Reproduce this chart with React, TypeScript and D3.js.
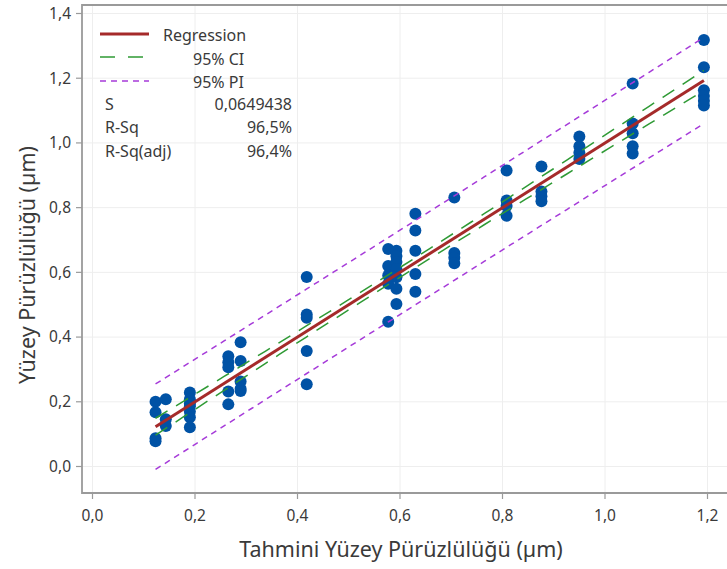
import React from "react";
import * as d3 from "d3";

const fittedLevels = [0.123, 0.143, 0.19, 0.265, 0.289, 0.418, 0.577, 0.593, 0.63, 0.706, 0.808, 0.876, 0.95, 1.054, 1.193];
const observedByLevel = [
  [0.2, 0.168, 0.087, 0.078],
  [0.208, 0.146, 0.125],
  [0.229, 0.208, 0.195, 0.186, 0.17, 0.152, 0.121],
  [0.341, 0.322, 0.307, 0.232, 0.192],
  [0.384, 0.326, 0.263, 0.24, 0.233],
  [0.586, 0.47, 0.46, 0.357, 0.254],
  [0.672, 0.62, 0.59, 0.565, 0.447],
  [0.667, 0.65, 0.632, 0.61, 0.585, 0.549, 0.502],
  [0.781, 0.729, 0.667, 0.595, 0.54],
  [0.831, 0.66, 0.645, 0.628],
  [0.915, 0.822, 0.805, 0.775],
  [0.927, 0.85, 0.835, 0.82],
  [1.02, 0.99, 0.97, 0.95],
  [1.184, 1.06, 1.03, 0.99, 0.967],
  [1.318, 1.234, 1.163, 1.145, 1.13, 1.116],
];

const xTicks = [0, 0.2, 0.4, 0.6, 0.8, 1.0, 1.2];
const yTicks = [0, 0.2, 0.4, 0.6, 0.8, 1.0, 1.2, 1.4];

const intercept = 0;
const slope = 1;
const sValue = 0.0649438;
const tCrit = 1.994;

const statLabels = ["S", "R-Sq", "R-Sq(adj)"];
const statValues = ["0,0649438", "96,5%", "96,4%"];

const W = 727;
const H = 569;
const FONT = "'Noto Sans', 'Open Sans', sans-serif";

const fmt = (v: number) => v.toFixed(1).replace(".", ",");

export default function App() {
  const x = d3.scaleLinear().domain([0, 1.2]).range([92.5, 707.5]);
  const y = d3.scaleLinear().domain([0, 1.4]).range([466.5, 13.5]);

  const points = fittedLevels.flatMap((fx, i) => observedByLevel[i].map((oy) => ({ fx, oy })));
  const n = points.length;
  const xbar = d3.mean(points, (p) => p.fx) as number;
  const sxx = d3.sum(points, (p) => (p.fx - xbar) ** 2);
  const xmin = d3.min(points, (p) => p.fx) as number;
  const xmax = d3.max(points, (p) => p.fx) as number;

  const xs = d3.range(0, 41).map((i) => xmin + ((xmax - xmin) * i) / 40);
  const fit = (v: number) => intercept + slope * v;
  const ci = (v: number) => tCrit * sValue * Math.sqrt(1 / n + (v - xbar) ** 2 / sxx);
  const pi = (v: number) => tCrit * sValue * Math.sqrt(1 + 1 / n + (v - xbar) ** 2 / sxx);

  const line = d3
    .line<[number, number]>()
    .x((d) => x(d[0]))
    .y((d) => y(d[1]));

  const frameLeft = 82;
  const frameTop = 5;
  const frameBottom = 493;
  const frameRight = 760;

  const green = "#2f9a35";
  const purple = "#a63bd9";
  const red = "#a52a2a";
  const blue = "#0052a5";
  const textColor = "#3a3a3a";

  return (
    <svg
      width={W}
      height={H}
      style={{ position: "absolute", left: 0, top: 0, background: "#fff" }}
      fontFamily={FONT}
    >
      <rect x={0} y={0} width={W} height={H} fill="#fff" />
      {/* gridlines */}
      {xTicks.map((t) => (
        <line key={"gx" + t} x1={x(t)} x2={x(t)} y1={frameTop} y2={frameBottom} stroke="#eeeeee" strokeWidth={1} />
      ))}
      {yTicks.map((t) => (
        <line key={"gy" + t} x1={frameLeft} x2={frameRight} y1={y(t)} y2={y(t)} stroke="#eeeeee" strokeWidth={1} />
      ))}

      {/* points */}
      {points.map((p, i) => (
        <circle key={i} cx={x(p.fx)} cy={y(p.oy)} r={6} fill={blue} />
      ))}

      {/* PI */}
      <path d={line(xs.map((v) => [v, fit(v) + pi(v)]) as any) || ""} fill="none" stroke={purple} strokeWidth={1.5} strokeDasharray="6 5" />
      <path d={line(xs.map((v) => [v, fit(v) - pi(v)]) as any) || ""} fill="none" stroke={purple} strokeWidth={1.5} strokeDasharray="6 5" />
      {/* CI */}
      <path d={line(xs.map((v) => [v, fit(v) + ci(v)]) as any) || ""} fill="none" stroke={green} strokeWidth={1.5} strokeDasharray="14 10" />
      <path d={line(xs.map((v) => [v, fit(v) - ci(v)]) as any) || ""} fill="none" stroke={green} strokeWidth={1.5} strokeDasharray="14 10" />
      {/* Regression */}
      <path d={line([[xmin, fit(xmin)], [xmax, fit(xmax)]]) || ""} fill="none" stroke={red} strokeWidth={3} />

      {/* frame */}
      <path
        d={`M${frameRight},${frameTop}H${frameLeft}V${frameBottom}H${frameRight}`}
        fill="none"
        stroke="#9a9a9a"
        strokeWidth={1.8}
      />

      {/* y ticks */}
      {yTicks.map((t) => (
        <g key={"yt" + t}>
          <line x1={frameLeft - 6} x2={frameLeft} y1={y(t)} y2={y(t)} stroke="#9a9a9a" strokeWidth={1.2} />
          <text x={frameLeft - 11} y={y(t)} dy="0.35em" textAnchor="end" fontSize={15.5} fill={textColor}>
            {fmt(t)}
          </text>
        </g>
      ))}
      {/* x ticks */}
      {xTicks.map((t) => (
        <g key={"xt" + t}>
          <line x1={x(t)} x2={x(t)} y1={frameBottom} y2={frameBottom + 6} stroke="#9a9a9a" strokeWidth={1.2} />
          <text x={x(t)} y={516} dy="0.35em" textAnchor="middle" fontSize={15.5} fill={textColor}>
            {fmt(t)}
          </text>
        </g>
      ))}

      {/* axis titles */}
      <text x={401} y={549} dy="0.35em" textAnchor="middle" fontSize={21.5} fill={textColor}>
        Tahmini Yüzey Pürüzlülüğü (µm)
      </text>
      <text
        transform={`translate(27,265) rotate(-90)`}
        dy="0.35em"
        textAnchor="middle"
        fontSize={21.5}
        fill={textColor}
      >
        Yüzey Pürüzlülüğü (µm)
      </text>

      {/* legend */}
      <line x1={100} x2={149} y1={34} y2={34} stroke={red} strokeWidth={3} />
      <text x={163} y={35} dy="0.35em" fontSize={16} fill={textColor}>Regression</text>
      <line x1={100} x2={149} y1={57} y2={57} stroke={green} strokeWidth={1.5} strokeDasharray="15 13" />
      <text x={193} y={59} dy="0.35em" fontSize={16} fill={textColor}>95% CI</text>
      <line x1={100} x2={149} y1={81} y2={81} stroke={purple} strokeWidth={1.5} strokeDasharray="6 5" />
      <text x={193} y={82} dy="0.35em" fontSize={16} fill={textColor}>95% PI</text>
      {statLabels.map((l, i) => (
        <g key={l}>
          <text x={105} y={104 + i * 23.5} dy="0.35em" fontSize={16} fill={textColor}>{l}</text>
          <text x={292} y={104 + i * 23.5} dy="0.35em" textAnchor="end" fontSize={16} fill={textColor}>
            {statValues[i]}
          </text>
        </g>
      ))}
    </svg>
  );
}
